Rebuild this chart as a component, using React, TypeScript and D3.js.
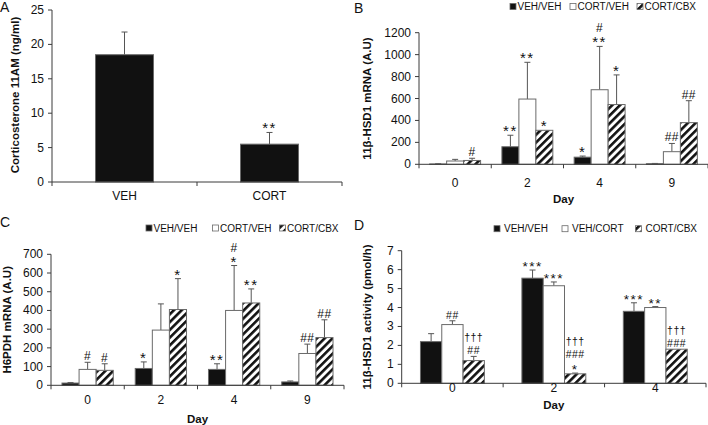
import React from "react";
import * as d3 from "d3";

const FONT = "'Liberation Sans', Arial, sans-serif";

// Panel A
const aCategories = ["VEH", "CORT"];
const aValues = [18.5, 5.5];
const aErrors = [3.3, 1.7];
const aSig = ["", "**"];
const aTicks = [0, 5, 10, 15, 20, 25];

// Panel B
const bDays = ["0", "2", "4", "9"];
const bSeries = ["VEH/VEH", "CORT/VEH", "CORT/CBX"];
const bVehVeh = [3, 160, 65, 5];
const bVehVehErr = [2, 105, 10, 3];
const bVehVehSig = ["", "**", "*", ""];
const bCortVeh = [30, 595, 680, 115];
const bCortVehErr = [15, 335, 395, 75];
const bCortVehSig = ["", "**", "#\n**", "##"];
const bCortCbx = [35, 310, 545, 380];
const bCortCbxErr = [20, 0, 270, 200];
const bCortCbxSig = ["#", "*", "*", "##"];
const bTicks = [0, 200, 400, 600, 800, 1000, 1200];

// Panel C
const cDays = ["0", "2", "4", "9"];
const cSeries = ["VEH/VEH", "CORT/VEH", "CORT/CBX"];
const cVehVeh = [12, 90, 85, 18];
const cVehVehErr = [3, 35, 30, 5];
const cVehVehSig = ["", "*", "**", ""];
const cCortVeh = [85, 295, 400, 170];
const cCortVehErr = [38, 140, 240, 50];
const cCortVehSig = ["#", "", "#\n*", "##"];
const cCortCbx = [80, 405, 440, 255];
const cCortCbxErr = [35, 165, 75, 95];
const cCortCbxSig = ["#", "*", "**", "##"];
const cTicks = [0, 100, 200, 300, 400, 500, 600, 700];

// Panel D
const dDays = ["0", "2", "4"];
const dSeries = ["VEH/VEH", "VEH/CORT", "CORT/CBX"];
const dVehVeh = [2.2, 5.55, 3.8];
const dVehVehErr = [0.42, 0.43, 0.45];
const dVehVehSig = ["", "***", "***"];
const dVehCort = [3.1, 5.15, 4.0];
const dVehCortErr = [0.2, 0.2, 0.05];
const dVehCortSig = ["##", "***", "**"];
const dCortCbx = [1.2, 0.5, 1.8];
const dCortCbxErr = [0.22, 0.04, 0];
const dCortCbxSig = ["\u2020\u2020\u2020\n##", "\u2020\u2020\u2020\n###\n*", "\u2020\u2020\u2020\n###"];
const dTicks = [0, 1, 2, 3, 4, 5, 6, 7];

const AXIS = "#3a3a3a";
const BAR_STROKE = "#6a6a6a";
const ERR = "#555";
const FILLS = ["#111", "#fff", "url(#hatch)"];

type Series = { name: string; values: number[]; errs: number[]; sigs: string[]; fill: string };

function SigLabel({ x, y, text, size, lh }: { x: number; y: number; text: string; size: number; lh: number }) {
  if (!text) return null;
  const lines = text.split("\n");
  const n = lines.length;
  return (
    <g>
      {lines.map((l, i) => {
        const star = l.includes("*");
        return (
          <text
            key={i}
            x={x}
            y={y - (n - 1 - i) * lh + (star ? 3 : 0)}
            textAnchor="middle"
            fontSize={star ? size + 3 : size}
            letterSpacing={star ? 1.5 : 0.5}
            fontFamily={FONT}
            fill="#111"
          >
            {l}
          </text>
        );
      })}
    </g>
  );
}

function GroupedPanel(props: {
  letter: string;
  letterX: number;
  letterY: number;
  days: string[];
  series: Series[];
  xRange: [number, number];
  yDomain: [number, number];
  yRange: [number, number];
  ticks: number[];
  barFrac: number;
  yTitle: string;
  yTitleX: number;
  tickLabelY: number;
  dayY: number;
  legendX: number[];
  legendY: number;
  legendGap: number;
  sigSize: number;
  sigLh: number;
}) {
  const p = props;
  const x = d3.scaleBand<string>().domain(p.days).range(p.xRange).padding(0);
  const y = d3.scaleLinear().domain(p.yDomain).range(p.yRange);
  const groupW = x.bandwidth() * p.barFrac;
  const inner = d3
    .scaleBand<string>()
    .domain(p.series.map((s) => s.name))
    .range([0, groupW])
    .padding(0);
  const x0 = p.xRange[0];
  const y0 = y(0);
  const yTitleCenter = (p.yRange[0] + p.yRange[1]) / 2;
  return (
    <g>
      <text x={p.letterX} y={p.letterY} fontSize={14} fontFamily={FONT} fill="#111">
        {p.letter}
      </text>
      {p.series.map((s, i) => (
        <g key={s.name}>
          <rect
            x={p.legendX[i]}
            y={p.legendY - 3}
            width={6}
            height={6}
            fill={s.fill}
            stroke={BAR_STROKE}
            strokeWidth={0.8}
          />
          <text
            x={p.legendX[i] + 6 + p.legendGap}
            y={p.legendY}
            dominantBaseline="central"
            fontSize={10}
            fontFamily={FONT}
            fill="#111"
          >
            {s.name}
          </text>
        </g>
      ))}
      {p.days.map((day, di) => {
        const gx = (x(day) as number) + (x.bandwidth() - groupW) / 2;
        return (
          <g key={day}>
            {p.series.map((s) => {
              const bx = gx + (inner(s.name) as number);
              const bw = inner.bandwidth();
              const v = s.values[di];
              const top = y(v);
              const eTop = y(v + s.errs[di]);
              const cx = bx + bw / 2;
              return (
                <g key={s.name}>
                  {s.errs[di] > 0 && (
                    <g stroke={ERR} strokeWidth={1}>
                      <line x1={cx} x2={cx} y1={top} y2={eTop} />
                      <line x1={cx - 3} x2={cx + 3} y1={eTop} y2={eTop} />
                    </g>
                  )}
                  <rect
                    x={bx}
                    y={top}
                    width={bw}
                    height={Math.max(0, y0 - top)}
                    fill={s.fill}
                    stroke={BAR_STROKE}
                    strokeWidth={1}
                  />
                  <SigLabel x={cx} y={Math.min(top, eTop) - 2} text={s.sigs[di]} size={p.sigSize} lh={p.sigLh} />
                </g>
              );
            })}
          </g>
        );
      })}
      <line x1={x0} x2={x0} y1={p.yRange[1]} y2={y0} stroke={AXIS} strokeWidth={1} />
      {p.ticks.map((t) => (
        <g key={t}>
          <line x1={x0 - 4} x2={x0} y1={y(t)} y2={y(t)} stroke={AXIS} strokeWidth={1} />
          <text
            x={x0 - 8}
            y={y(t)}
            textAnchor="end"
            dominantBaseline="central"
            fontSize={12}
            fontFamily={FONT}
            fill="#111"
          >
            {t}
          </text>
        </g>
      ))}
      <line x1={x0} x2={p.xRange[1]} y1={y0} y2={y0} stroke={AXIS} strokeWidth={1} />
      {[...p.days.map((d) => x(d) as number), p.xRange[1]].map((tx, i) => (
        <line key={i} x1={tx} x2={tx} y1={y0} y2={y0 + 4} stroke={AXIS} strokeWidth={1} />
      ))}
      {p.days.map((d) => (
        <text
          key={d}
          x={(x(d) as number) + x.bandwidth() / 2}
          y={p.tickLabelY}
          textAnchor="middle"
          dominantBaseline="central"
          fontSize={12}
          fontFamily={FONT}
          fill="#111"
        >
          {d}
        </text>
      ))}
      <text
        x={(p.xRange[0] + p.xRange[1]) / 2}
        y={p.dayY}
        textAnchor="middle"
        dominantBaseline="central"
        fontSize={11.5}
        fontWeight="bold"
        fontFamily={FONT}
        fill="#111"
      >
        Day
      </text>
      <text
        transform={`translate(${p.yTitleX},${yTitleCenter}) rotate(-90)`}
        textAnchor="middle"
        dominantBaseline="central"
        fontSize={11.5}
        fontWeight="bold"
        fontFamily={FONT}
        fill="#111"
      >
        {p.yTitle}
      </text>
    </g>
  );
}

function PanelA() {
  const xRange: [number, number] = [52, 342];
  const x = d3.scaleBand<string>().domain(aCategories).range(xRange).padding(0);
  const y = d3.scaleLinear().domain([0, 25]).range([182, 10]);
  const bw = x.bandwidth() * 0.4;
  const y0 = y(0);
  return (
    <g>
      <text x={0} y={12} fontSize={14} fontFamily={FONT} fill="#111">
        A
      </text>
      {aCategories.map((c, i) => {
        const cx = (x(c) as number) + x.bandwidth() / 2;
        const top = y(aValues[i]);
        const eTop = y(aValues[i] + aErrors[i]);
        return (
          <g key={c}>
            <g stroke={ERR} strokeWidth={1}>
              <line x1={cx} x2={cx} y1={top} y2={eTop} />
              <line x1={cx - 3} x2={cx + 3} y1={eTop} y2={eTop} />
            </g>
            <rect x={cx - bw / 2} y={top} width={bw} height={y0 - top} fill="#111" stroke={BAR_STROKE} />
            <SigLabel x={cx} y={eTop - 2} text={aSig[i]} size={12} lh={12} />
            <text
              x={cx}
              y={196}
              textAnchor="middle"
              dominantBaseline="central"
              fontSize={12}
              fontFamily={FONT}
              fill="#111"
            >
              {c}
            </text>
          </g>
        );
      })}
      <line x1={52} x2={52} y1={10} y2={y0} stroke={AXIS} />
      {aTicks.map((t) => (
        <g key={t}>
          <line x1={48} x2={52} y1={y(t)} y2={y(t)} stroke={AXIS} />
          <text
            x={44}
            y={y(t)}
            textAnchor="end"
            dominantBaseline="central"
            fontSize={12}
            fontFamily={FONT}
            fill="#111"
          >
            {t}
          </text>
        </g>
      ))}
      <line x1={xRange[0]} x2={xRange[1]} y1={y0} y2={y0} stroke={AXIS} />
      {[...aCategories.map((c) => x(c) as number), xRange[1]].map((tx, i) => (
        <line key={i} x1={tx} x2={tx} y1={y0} y2={y0 + 4} stroke={AXIS} />
      ))}
      <text
        transform={`translate(15,95) rotate(-90)`}
        textAnchor="middle"
        dominantBaseline="central"
        fontSize={11.5}
        fontWeight="bold"
        fontFamily={FONT}
        fill="#111"
      >
        Corticosterone 11AM (ng/ml)
      </text>
    </g>
  );
}

export default function App() {
  const bS: Series[] = [
    { name: bSeries[0], values: bVehVeh, errs: bVehVehErr, sigs: bVehVehSig, fill: FILLS[0] },
    { name: bSeries[1], values: bCortVeh, errs: bCortVehErr, sigs: bCortVehSig, fill: FILLS[1] },
    { name: bSeries[2], values: bCortCbx, errs: bCortCbxErr, sigs: bCortCbxSig, fill: FILLS[2] },
  ];
  const cS: Series[] = [
    { name: cSeries[0], values: cVehVeh, errs: cVehVehErr, sigs: cVehVehSig, fill: FILLS[0] },
    { name: cSeries[1], values: cCortVeh, errs: cCortVehErr, sigs: cCortVehSig, fill: FILLS[1] },
    { name: cSeries[2], values: cCortCbx, errs: cCortCbxErr, sigs: cCortCbxSig, fill: FILLS[2] },
  ];
  const dS: Series[] = [
    { name: dSeries[0], values: dVehVeh, errs: dVehVehErr, sigs: dVehVehSig, fill: FILLS[0] },
    { name: dSeries[1], values: dVehCort, errs: dVehCortErr, sigs: dVehCortSig, fill: FILLS[1] },
    { name: dSeries[2], values: dCortCbx, errs: dCortCbxErr, sigs: dCortCbxSig, fill: FILLS[2] },
  ];
  return (
    <svg
      width={708}
      height={425}
      style={{ position: "absolute", left: 0, top: 0, background: "#fff" }}
    >
      <defs>
        <pattern id="hatch" patternUnits="userSpaceOnUse" width={5.5} height={5.5} patternTransform="rotate(45)">
          <rect width={5.5} height={5.5} fill="#fff" />
          <rect width={2.6} height={5.5} fill="#111" />
        </pattern>
      </defs>
      <rect width={708} height={425} fill="#fff" />
      <PanelA />
      <GroupedPanel
        letter="B"
        letterX={354}
        letterY={13}
        days={bDays}
        series={bS}
        xRange={[419, 708]}
        yDomain={[0, 1200]}
        yRange={[164.3, 32.7]}
        ticks={bTicks}
        barFrac={0.705}
        yTitle="11β-HSD1 mRNA (A.U)"
        yTitleX={367}
        tickLabelY={183}
        dayY={199}
        legendX={[510, 570, 637]}
        legendY={6.5}
        legendGap={1.5}
        sigSize={12}
        sigLh={12}
      />
      <GroupedPanel
        letter="C"
        letterX={0}
        letterY={227}
        days={cDays}
        series={cS}
        xRange={[51, 344]}
        yDomain={[0, 700]}
        yRange={[385.3, 254.3]}
        ticks={cTicks}
        barFrac={0.7}
        yTitle="H6PDH mRNA (A.U)"
        yTitleX={7}
        tickLabelY={400}
        dayY={418.5}
        legendX={[146, 212.5, 279.5]}
        legendY={228}
        legendGap={1.5}
        sigSize={12}
        sigLh={12}
      />
      <GroupedPanel
        letter="D"
        letterX={354}
        letterY={230}
        days={dDays}
        series={dS}
        xRange={[401.7, 706]}
        yDomain={[0, 7]}
        yRange={[383.3, 250.7]}
        ticks={dTicks}
        barFrac={0.63}
        yTitle="11β-HSD1 activity (pmol/h)"
        yTitleX={367}
        tickLabelY={388}
        dayY={404.5}
        legendX={[494, 562, 635.5]}
        legendY={228.7}
        legendGap={4}
        sigSize={10.5}
        sigLh={13}
      />
    </svg>
  );
}
